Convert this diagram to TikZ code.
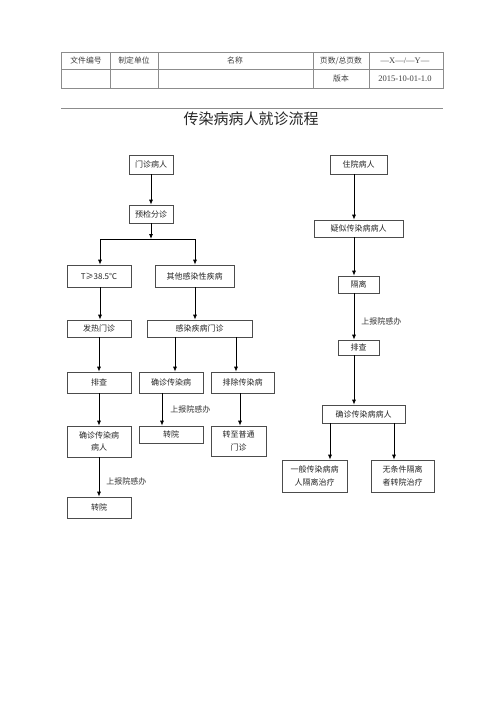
\documentclass[tikz,border=0pt]{standalone}
\usepackage{fontspec}
\setmainfont{Liberation Serif}
\newfontfamily\cjk{Noto Sans CJK SC}
\usetikzlibrary{arrows.meta,calc}
\begin{document}
\begin{tikzpicture}[x=1pt,y=-1pt,
  box/.style={draw=black!70, line width=0.6pt, inner sep=0pt, align=center,
    font=\cjk\fontsize{8}{12.5}\selectfont, text=black!85},
  arr/.style={line width=0.8pt, -{Latex[length=5pt,width=4pt]}},
  lbl/.style={anchor=west, font=\cjk\fontsize{8}{9}\selectfont, inner sep=0pt, text=black!80},
  tline/.style={draw=black!45, line width=0.6pt},
  ttxt/.style={font=\cjk\fontsize{7.8}{9}\selectfont, inner sep=0pt, text=black!75},
  tnum/.style={font=\fontsize{8.5}{9}\selectfont, inner sep=0pt, text=black!75}]
\useasboundingbox[fill=white] (0,0) rectangle (500,707);

% header table
\draw[tline] (61,52) rectangle (443,88);
\draw[tline] (61,69) -- (443,69);
\foreach \xx in {110,158,313,369} \draw[tline] (\xx,52) -- (\xx,88);
\node[ttxt] (h1) at (86,60.5) {文件编号};
\node[ttxt] (h2) at (134,60.5) {制定单位};
\node[ttxt] (h3) at (235,60.5) {名称};
\node[ttxt] (h4) at (341,60.5) {页数/总页数};
\node[tnum] (h5) at (405,60.5) {—X—/—Y—};
\node[ttxt] (h6) at (341,78.5) {版本};
\node[tnum] (h7) at (405,78.5) {2015-10-01-1.0};
\draw[draw=black!45, line width=0.6pt] (61,108) -- (443,108);
\node[font=\cjk\fontsize{15}{17}\selectfont, inner sep=0pt, text=black!85] (title) at (251,119) {传染病病人就诊流程};

% left flow
\node[box, minimum width=44pt, minimum height=19pt] (mz) at (151,164.5) {门诊病人};
\node[box, minimum width=44pt, minimum height=18pt] (yj) at (151,214) {预检分诊};
\node[box, minimum width=64pt, minimum height=22pt] (tt) at (99,276) {T≥38.5℃};
\node[box, minimum width=79pt, minimum height=22pt] (qt) at (194.5,276) {其他感染性疾病};
\node[box, minimum width=64pt, minimum height=17pt] (fr) at (99,328.5) {发热门诊};
\node[box, minimum width=105pt, minimum height=17pt] (gr) at (199.5,328.5) {感染疾病门诊};
\node[box, minimum width=64pt, minimum height=21pt] (pc1) at (99,382.5) {排查};
\node[box, minimum width=64pt, minimum height=21pt] (qz) at (171,382.5) {确诊传染病};
\node[box, minimum width=63pt, minimum height=21pt] (pcc) at (242.5,382.5) {排除传染病};
\node[box, minimum width=64pt, minimum height=31pt] (qzr) at (99,441.5) {确诊传染病\\病人};
\node[box, minimum width=64pt, minimum height=17pt] (zy1) at (171,434.5) {转院};
\node[box, minimum width=55pt, minimum height=30pt] (zz) at (238.5,441) {转至普通\\门诊};
\node[box, minimum width=64pt, minimum height=21pt] (zy2) at (99,507.5) {转院};
\coordinate (j1) at (151,239);

\draw[arr] (mz) -- (yj);
\draw[arr] (yj) -- (j1);
\draw[arr] (j1) -| ($(tt.north)+(1,0)$);
\draw[arr] (j1) -| ($(qt.north)+(0.5,0)$);
\draw[arr] ($(tt.south)+(1,0)$) -- ($(fr.north)+(1,0)$);
\draw[arr] ($(qt.south)+(0.5,0)$) -- ($(qt.south |- gr.north)+(0.5,0)$);
\draw[arr] (fr) -- (pc1);
\draw[arr] ($(gr.south -| qz.north)+(4,0)$) -- ($(qz.north)+(4,0)$);
\draw[arr] ($(gr.south -| pcc.north)+(-6.5,0)$) -- ($(pcc.north)+(-6.5,0)$);
\draw[arr] ($(qz.south)+(-9,0)$) -- ($(zy1.north)+(-9,0)$)
  node[lbl, pos=0.5, xshift=8pt] (lb1) {上报院感办};
\draw[arr] ($(pcc.south)+(-2.5,0)$) -- ($(zz.north -| pcc.south)+(-2.5,0)$);
\draw[arr] (pc1) -- (qzr);
\draw[arr] (qzr) -- (zy2) node[lbl, pos=0.6, xshift=7pt] (lb2) {上报院感办};

% right flow
\node[box, minimum width=57pt, minimum height=19pt] (zyb) at (358.5,164.5) {住院病人};
\node[box, minimum width=89pt, minimum height=17pt] (ys) at (358.5,228.5) {疑似传染病病人};
\node[box, minimum width=41pt, minimum height=17pt] (gl) at (358.5,284.5) {隔离};
\node[box, minimum width=41pt, minimum height=15pt] (pc2) at (358.5,347.5) {排查};
\node[box, minimum width=83pt, minimum height=18pt] (qzr2) at (363.5,414) {确诊传染病病人};
\node[box, minimum width=65pt, minimum height=32pt] (yb) at (314.5,476) {一般传染病病\\人隔离治疗};
\node[box, minimum width=63pt, minimum height=32pt] (wt) at (402.5,476) {无条件隔离\\者转院治疗};

\draw[arr] ($(zyb.south)+(-4.5,0)$) -- ($(ys.north)+(-4.5,0)$);
\draw[arr] ($(ys.south)+(-4.5,0)$) -- ($(gl.north)+(-4.5,0)$);
\draw[arr] ($(gl.south)+(-4.5,0)$) -- ($(pc2.north)+(-4.5,0)$)
  node[lbl, pos=0.6, xshift=7pt] (lb3) {上报院感办};
\draw[arr] ($(pc2.south)+(-4.5,0)$) -- ($(qzr2.north -| pc2.south)+(-4.5,0)$);
\draw[arr] ($(qzr2.south -| yb.north)+(15.5,0)$) -- ($(yb.north)+(15.5,0)$);
\draw[arr] ($(qzr2.south -| wt.north)+(-8.5,0)$) -- ($(wt.north)+(-8.5,0)$);
\end{tikzpicture}
\end{document}
